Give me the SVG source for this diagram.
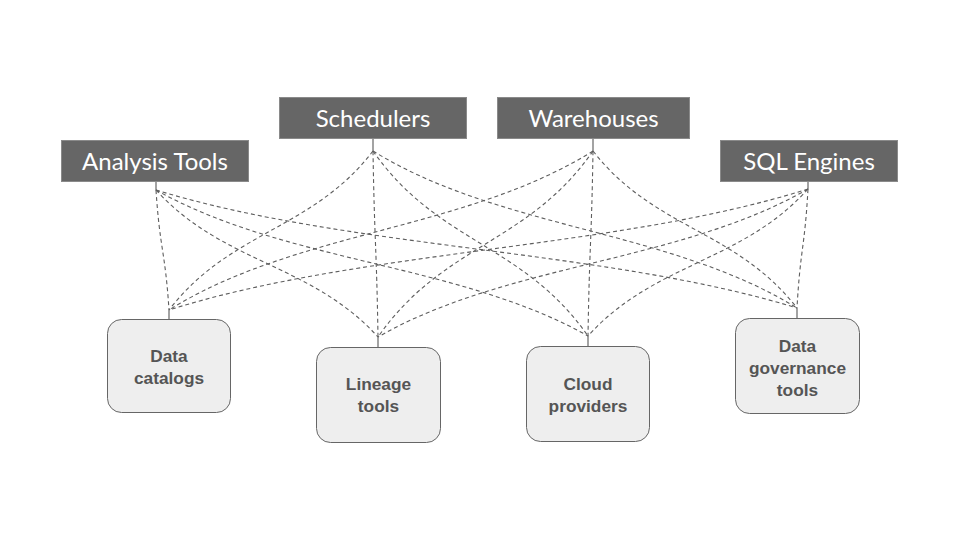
<svg xmlns="http://www.w3.org/2000/svg" width="960" height="540" viewBox="0 0 960 540">
<style>
.top rect{fill:#666666;stroke:#8a8a8a;stroke-width:1}
.top text{fill:#ffffff;font-family:Lato,"Open Sans",sans-serif;font-size:24px;text-anchor:middle}
.bot rect{fill:#eeeeee;stroke:#666666;stroke-width:1}
.bot text{fill:#555555;font-family:"Liberation Sans",Arial,sans-serif;font-weight:bold;font-size:17.3px;text-anchor:middle}
.c path{fill:none;stroke:#5e5e5e;stroke-width:1.1;stroke-dasharray:4 3}
.c line{stroke:#666666;stroke-width:1.2}
</style>
<rect width="960" height="540" fill="#ffffff"/>
<g id="connectors" class="c">
<line x1="156" y1="182" x2="156" y2="190"/>
<line x1="373" y1="139" x2="373" y2="151"/>
<line x1="593" y1="139" x2="593" y2="151"/>
<line x1="808" y1="182" x2="808" y2="189"/>
<line x1="169" y1="310" x2="169" y2="319"/>
<line x1="378" y1="337" x2="378" y2="347"/>
<line x1="588" y1="336" x2="588" y2="346"/>
<line x1="797" y1="308" x2="797" y2="318"/>
<path d="M156,190 C159.9,250 165.1,250 169,310"/>
<path d="M156,190 C222.6,263.5 311.4,263.5 378,337"/>
<path d="M156,190 C285.6,263 458.4,263 588,336"/>
<path d="M156,190 C348.3,249 604.7,249 797,308"/>
<path d="M373,151 C311.8,230.5 230.2,230.5 169,310"/>
<path d="M373,151 C374.5,244 376.5,244 378,337"/>
<path d="M373,151 C437.5,243.5 523.5,243.5 588,336"/>
<path d="M373,151 C500.2,229.5 669.8,229.5 797,308"/>
<path d="M593,151 C465.8,230.5 296.2,230.5 169,310"/>
<path d="M593,151 C528.5,244 442.5,244 378,337"/>
<path d="M593,151 C591.5,243.5 589.5,243.5 588,336"/>
<path d="M593,151 C654.2,229.5 735.8,229.5 797,308"/>
<path d="M808,189 C616.3,249.5 360.7,249.5 169,310"/>
<path d="M808,189 C679,263 507,263 378,337"/>
<path d="M808,189 C742,262.5 654,262.5 588,336"/>
<path d="M808,189 C804.7,248.5 800.3,248.5 797,308"/>
</g>
<g id="analysis-tools" class="top">
<rect x="61.5" y="140.5" width="187" height="41"/>
<text x="155" y="169.5">Analysis Tools</text>
</g>
<g id="schedulers" class="top">
<rect x="279.5" y="97.5" width="187" height="41"/>
<text x="373" y="126.5">Schedulers</text>
</g>
<g id="warehouses" class="top">
<rect x="497.5" y="97.5" width="192" height="41"/>
<text x="593.5" y="126.5">Warehouses</text>
</g>
<g id="sql-engines" class="top">
<rect x="720.5" y="140.5" width="177" height="41"/>
<text x="809" y="169.5">SQL Engines</text>
</g>
<g id="data-catalogs" class="bot">
<rect x="107.5" y="319.5" width="123" height="93" rx="14"/>
<text x="169" y="361.5">Data</text>
<text x="169" y="383.5">catalogs</text>
</g>
<g id="lineage-tools" class="bot">
<rect x="316.5" y="347.5" width="124" height="95" rx="14"/>
<text x="378.5" y="389.5">Lineage</text>
<text x="378.5" y="411.5">tools</text>
</g>
<g id="cloud-providers" class="bot">
<rect x="526.5" y="346.5" width="123" height="95" rx="14"/>
<text x="588" y="389.5">Cloud</text>
<text x="588" y="411.5">providers</text>
</g>
<g id="data-governance-tools" class="bot">
<rect x="735.5" y="318.5" width="124" height="95" rx="14"/>
<text x="797.5" y="351.5">Data</text>
<text x="797.5" y="373.5">governance</text>
<text x="797.5" y="395.5">tools</text>
</g>
</svg>
